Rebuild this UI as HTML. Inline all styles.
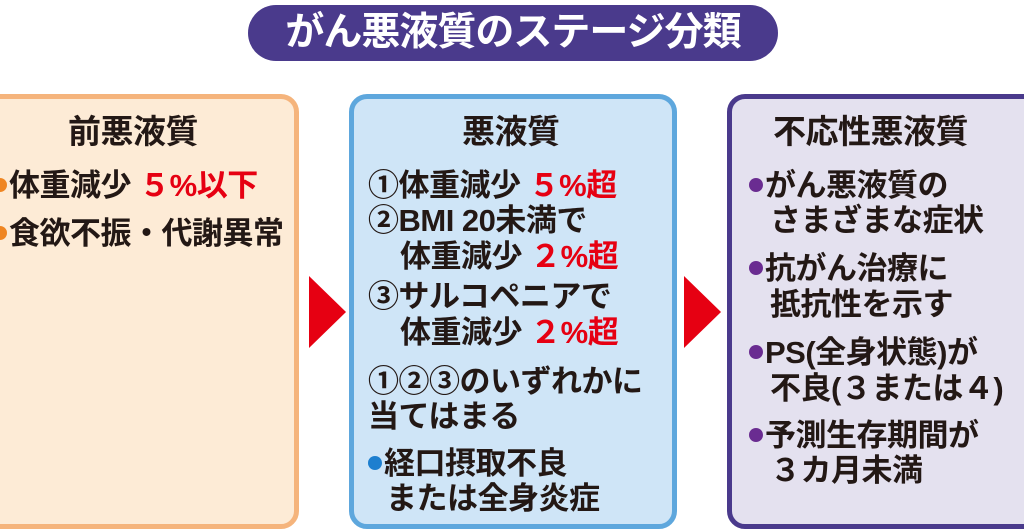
<!DOCTYPE html><html><head><meta charset="utf-8"><style>
html,body{margin:0;width:1024px;height:530px;overflow:hidden}
body{background:#fff;position:relative;font-family:"Liberation Sans","Noto Sans CJK JP",sans-serif;font-weight:bold;color:#231815}
.pill{position:absolute;left:248px;top:5px;width:530px;height:56px;border-radius:28px;background:#4a3a8c;color:#fff;font-size:39px;line-height:56px;text-align:center;letter-spacing:-1px}
.box{position:absolute;top:94px;height:435px;border-radius:18px;border:5px solid;box-sizing:border-box}
.t{position:absolute;font-size:31px;white-space:nowrap;line-height:36px;letter-spacing:-0.5px}
.h{font-size:33px}
.r{color:#e60012}
.tri{position:absolute;width:0;height:0;border-top:36px solid transparent;border-bottom:36px solid transparent;border-left:37px solid #e60012;top:276px}
.dot{display:inline-block;width:14px;height:14px;border-radius:50%;vertical-align:middle;margin-right:2px;position:relative;top:-3px}
</style></head><body>
<div class="pill">がん悪液質のステージ分類</div>
<div class="box" style="left:-20px;width:319px;border-color:#f5b47c;background:#fdebd6"></div>
<div class="box" style="left:349px;width:328px;border-color:#5ea7dd;background:#cfe5f7"></div>
<div class="box" style="left:727px;width:320px;border-color:#4a3a8c;background:#e4e1ef"></div>
<div class="tri" style="left:309px"></div>
<div class="tri" style="left:684px"></div>

<div class="t h" style="left:68px;top:114px">前悪液質</div>
<div class="t" style="left:-7px;top:168px"><span class="dot" style="background:#ef8522"></span>体重減少 <span class="r">５%以下</span></div>
<div class="t" style="left:-7px;top:216px"><span class="dot" style="background:#ef8522"></span>食欲不振・代謝異常</div>

<div class="t h" style="left:462px;top:114px">悪液質</div>
<div class="t" style="left:368px;top:168px">①体重減少 <span class="r">５%超</span></div>
<div class="t" style="left:368px;top:203px">②BMI 20未満で</div>
<div class="t" style="left:400px;top:239px">体重減少 <span class="r">２%超</span></div>
<div class="t" style="left:368px;top:279px">③サルコペニアで</div>
<div class="t" style="left:400px;top:315px">体重減少 <span class="r">２%超</span></div>
<div class="t" style="left:368px;top:364px">①②③のいずれかに</div>
<div class="t" style="left:368px;top:399px">当てはまる</div>
<div class="t" style="left:368px;top:446px"><span class="dot" style="background:#1d7fcf"></span>経口摂取不良</div>
<div class="t" style="left:386px;top:481px">または全身炎症</div>

<div class="t h" style="left:773px;top:114px">不応性悪液質</div>
<div class="t" style="left:749px;top:168px"><span class="dot" style="background:#6a2c91"></span>がん悪液質の</div>
<div class="t" style="left:770px;top:203px">さまざまな症状</div>
<div class="t" style="left:749px;top:251px"><span class="dot" style="background:#6a2c91"></span>抗がん治療に</div>
<div class="t" style="left:770px;top:287px">抵抗性を示す</div>
<div class="t" style="left:749px;top:335px"><span class="dot" style="background:#6a2c91"></span>PS(全身状態)が</div>
<div class="t" style="left:770px;top:371px">不良(３または４)</div>
<div class="t" style="left:749px;top:418px"><span class="dot" style="background:#6a2c91"></span>予測生存期間が</div>
<div class="t" style="left:770px;top:453px">３カ月未満</div>
</body></html>
